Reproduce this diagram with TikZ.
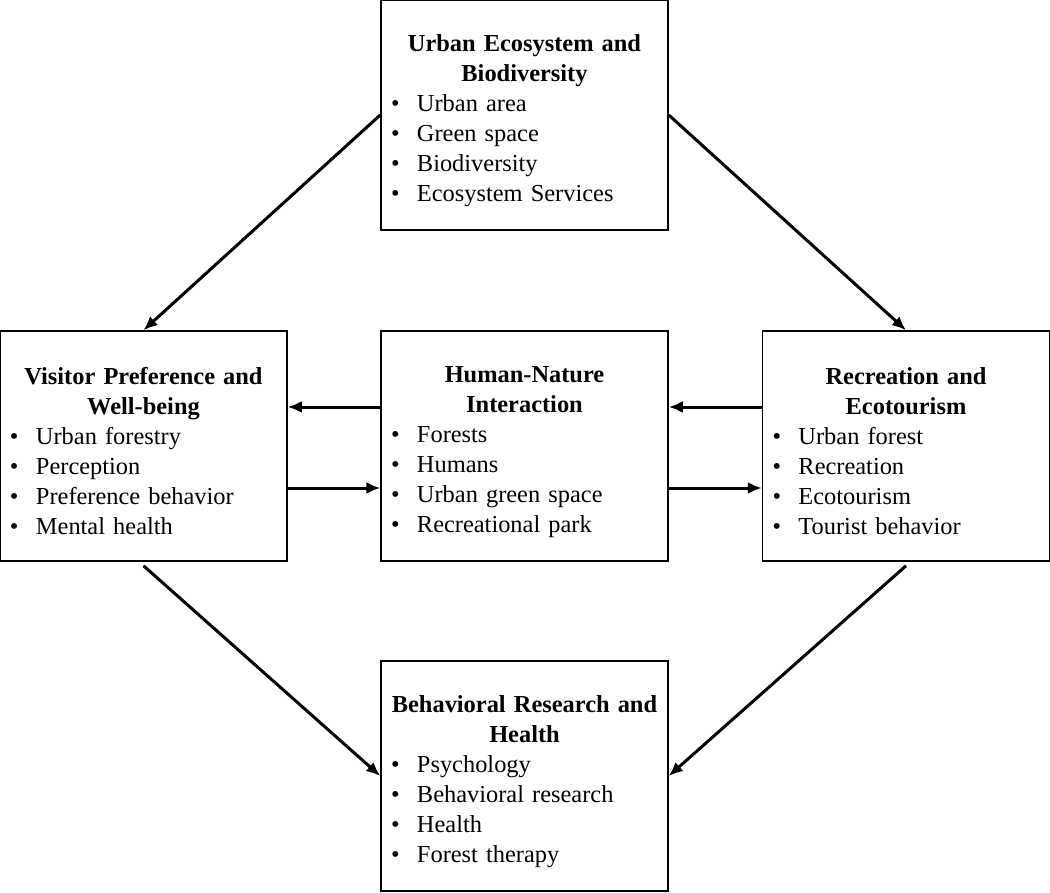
\documentclass[tikz,border=0pt]{standalone}
\usepackage{fontspec}
\setmainfont{Liberation Serif}
\usetikzlibrary{arrows.meta}

\newcommand{\boxitem}[1]{\par\noindent\hspace*{5pt}\makebox[13pt][l]{\textbullet}#1}
\newcommand{\boxtitle}[1]{{\centering\bfseries\rule{0pt}{14pt}#1\par}}

\tikzset{
  topic/.style={draw, line width=0.75pt, text width=143.5pt, minimum height=115pt,
    inner sep=0pt, align=left, font=\fontsize{12.2}{15}\selectfont},
  link/.style={-{Latex[length=7pt,width=6pt]}, line width=1.5pt}
}

\begin{document}
\begin{tikzpicture}[x=0.5pt,y=-0.5pt]
    \useasboundingbox (0,0) rectangle (1050,893);
    \node[topic] (eco) at (524.5,115) {\boxtitle{Urban Ecosystem and\\Biodiversity}
        \boxitem{Urban area}\boxitem{Green space}\boxitem{Biodiversity}\boxitem{Ecosystem Services}};
    \node[topic] (visit) at (143.5,446) {\boxtitle{Visitor Preference and\\Well-being}
        \boxitem{Urban forestry}\boxitem{Perception}\boxitem{Preference behavior}\boxitem{Mental health}};
    \node[topic] (human) at (524.5,446) {\boxtitle{Human-Nature\\Interaction}
        \boxitem{Forests}\boxitem{Humans}\boxitem{Urban green space}\boxitem{Recreational park}};
    \node[topic] (recr) at (906,446) {\boxtitle{Recreation and\\Ecotourism}
        \boxitem{Urban forest}\boxitem{Recreation}\boxitem{Ecotourism}\boxitem{Tourist behavior}};
    \node[topic] (behav) at (524.5,776) {\boxtitle{Behavioral Research and\\Health}
        \boxitem{Psychology}\boxitem{Behavioral research}\boxitem{Health}\boxitem{Forest therapy}};
    % diagonals
    \draw[link] (eco.west) -- (visit.north);
    \draw[link] (eco.east) -- (recr.north);
    \draw[link] ([yshift=-2pt]visit.south) -- (behav.west);
    \draw[link] ([yshift=-2pt]recr.south) -- (behav.east);
    % horizontals
    \draw[link] ([yshift=19.5pt]human.west) -- ([yshift=19.5pt]visit.east);
    \draw[link] ([yshift=-21pt]visit.east) -- ([yshift=-21pt]human.west);
    \draw[link] ([yshift=19.5pt]recr.west) -- ([yshift=19.5pt]human.east);
    \draw[link] ([yshift=-21pt]human.east) -- ([yshift=-21pt]recr.west);
\end{tikzpicture}
\end{document}
